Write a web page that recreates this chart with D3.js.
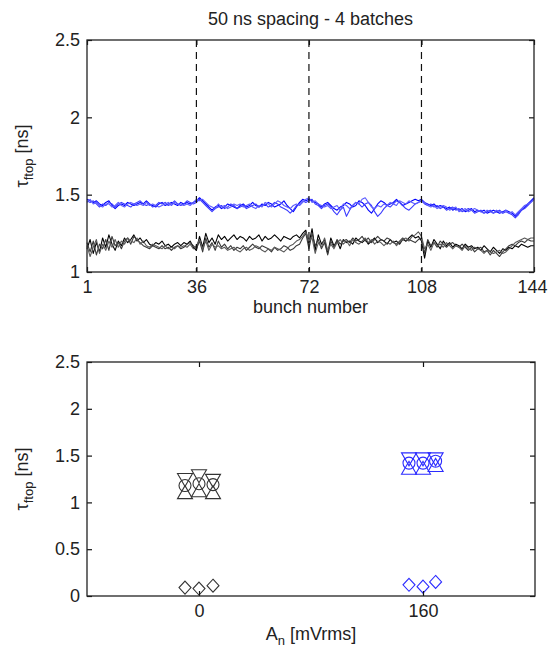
<!DOCTYPE html>
<html>
<head>
<meta charset="utf-8">
<script src="https://cdn.jsdelivr.net/npm/d3@7"></script>
<style>
  body { margin: 0; background: #fff; }
  text { font-family: "Liberation Sans", Arial, sans-serif; fill: #222; }
</style>
</head>
<body>
<script>
// ---- top panel: tau per bunch, 4 batches of 36 ----
const bunchTicks = [1, 36, 72, 108, 144];
const batchEdges = [36, 72, 108];
const topYTicks = [1, 1.5, 2, 2.5];

// blue traces (with noise), one line per batch
const blue1 = [
  1.47,1.46,1.45,1.46,1.44,1.43, 1.45,1.46,1.43,1.41,1.43,1.44, 1.43,1.45,1.44,1.43,1.44,1.45, 1.44,1.46,1.44,1.43,1.42,1.44, 1.45,1.43,1.44,1.45,1.44,1.43, 1.45,1.44,1.45,1.44,1.45,1.46,
  1.48,1.46,1.44,1.42,1.40,1.42, 1.43,1.41,1.42,1.44,1.43,1.42, 1.41,1.43,1.44,1.42,1.43,1.45, 1.43,1.42,1.44,1.43,1.45,1.44, 1.42,1.43,1.44,1.46,1.43,1.41, 1.39,1.42,1.45,1.47,1.46,1.47,
  1.46,1.45,1.44,1.42,1.44,1.45, 1.43,1.41,1.40,1.42,1.43,1.45, 1.44,1.42,1.43,1.46,1.45,1.43, 1.40,1.38,1.41,1.44,1.46,1.45, 1.43,1.44,1.45,1.47,1.45,1.43, 1.44,1.45,1.46,1.47,1.46,1.47,
  1.45,1.44,1.43,1.44,1.42,1.43, 1.42,1.41,1.42,1.40,1.41,1.40, 1.41,1.39,1.40,1.41,1.39,1.40, 1.39,1.40,1.38,1.39,1.40,1.39, 1.38,1.39,1.40,1.39,1.38,1.36, 1.38,1.40,1.42,1.44,1.46,1.48
];
const blue2 = [
  1.46,1.45,1.46,1.44,1.42,1.44, 1.43,1.45,1.44,1.42,1.44,1.45, 1.44,1.43,1.42,1.44,1.45,1.46, 1.44,1.43,1.44,1.42,1.43,1.45, 1.44,1.45,1.43,1.44,1.46,1.44, 1.43,1.44,1.46,1.45,1.44,1.45,
  1.47,1.45,1.43,1.41,1.39,1.41, 1.42,1.43,1.41,1.42,1.44,1.43, 1.41,1.42,1.43,1.41,1.42,1.43, 1.44,1.42,1.43,1.44,1.42,1.43, 1.45,1.44,1.42,1.41,1.40,1.38, 1.40,1.43,1.44,1.46,1.45,1.46,
  1.47,1.44,1.43,1.41,1.43,1.44, 1.42,1.39,1.37,1.40,1.42,1.36, 1.40,1.43,1.45,1.44,1.42,1.44, 1.45,1.43,1.39,1.36,1.38,1.41, 1.43,1.42,1.44,1.46,1.45,1.43, 1.41,1.40,1.42,1.44,1.45,1.46,
  1.44,1.43,1.44,1.42,1.43,1.41, 1.42,1.40,1.41,1.42,1.40,1.41, 1.39,1.40,1.41,1.40,1.38,1.39, 1.40,1.38,1.39,1.40,1.38,1.39, 1.40,1.38,1.39,1.38,1.37,1.35, 1.37,1.40,1.41,1.43,1.45,1.47
];
const blue3 = [
  1.45,1.47,1.44,1.45,1.43,1.42, 1.44,1.44,1.42,1.43,1.45,1.43, 1.42,1.44,1.45,1.44,1.43,1.44, 1.43,1.45,1.43,1.44,1.43,1.42, 1.43,1.44,1.45,1.43,1.45,1.44, 1.44,1.43,1.44,1.43,1.45,1.47,
  1.46,1.47,1.45,1.43,1.42,1.41, 1.44,1.42,1.43,1.41,1.42,1.44, 1.43,1.44,1.42,1.43,1.44,1.42, 1.41,1.43,1.42,1.45,1.44,1.42, 1.44,1.46,1.45,1.43,1.42,1.41, 1.43,1.44,1.43,1.45,1.47,1.48,
  1.45,1.46,1.44,1.43,1.42,1.43, 1.41,1.42,1.43,1.40,1.44,1.43, 1.41,1.43,1.45,1.44,1.47,1.48, 1.45,1.42,1.41,1.43,1.42,1.44, 1.43,1.45,1.44,1.43,1.46,1.45, 1.44,1.46,1.45,1.44,1.45,1.46,
  1.45,1.43,1.42,1.43,1.41,1.42, 1.43,1.42,1.40,1.41,1.42,1.39, 1.40,1.41,1.39,1.40,1.41,1.40, 1.39,1.38,1.40,1.39,1.38,1.40, 1.39,1.38,1.40,1.38,1.39,1.37, 1.39,1.41,1.43,1.44,1.45,1.47
];

// black traces (no noise)
const black1 = [
  1.15,1.21,1.12,1.19,1.13,1.22, 1.16,1.24,1.18,1.14,1.20,1.17, 1.22,1.19,1.21,1.24,1.20,1.22, 1.19,1.21,1.18,1.17,1.19,1.18, 1.20,1.17,1.18,1.16,1.18,1.19, 1.17,1.19,1.18,1.20,1.16,1.14,
  1.23,1.16,1.25,1.19,1.22,1.18, 1.24,1.21,1.23,1.20,1.22,1.24, 1.21,1.23,1.22,1.20,1.23,1.21, 1.22,1.24,1.20,1.23,1.21,1.22, 1.24,1.22,1.20,1.23,1.22,1.21, 1.23,1.24,1.22,1.25,1.27,1.18,
  1.28,1.14,1.24,1.18,1.21,1.12, 1.22,1.17,1.20,1.15,1.21,1.19, 1.20,1.18,1.22,1.20,1.19,1.21, 1.18,1.20,1.22,1.19,1.21,1.20, 1.18,1.21,1.19,1.20,1.18,1.21, 1.20,1.22,1.24,1.22,1.23,1.20,
  1.09,1.20,1.16,1.21,1.18,1.15, 1.20,1.17,1.19,1.16,1.18,1.17, 1.15,1.18,1.16,1.17,1.15,1.16, 1.14,1.17,1.15,1.13,1.16,1.14, 1.12,1.15,1.14,1.16,1.15,1.17, 1.16,1.18,1.17,1.16,1.17,1.17
];
const black2 = [
  1.19,1.13,1.20,1.11,1.18,1.15, 1.21,1.14,1.23,1.17,1.19,1.15, 1.20,1.22,1.18,1.23,1.21,1.19, 1.17,1.16,1.15,1.17,1.16,1.15, 1.17,1.15,1.16,1.14,1.16,1.17, 1.15,1.16,1.18,1.19,1.17,1.15,
  1.20,1.13,1.22,1.16,1.19,1.14, 1.20,1.16,1.18,1.15,1.17,1.14, 1.16,1.15,1.17,1.14,1.16,1.18, 1.16,1.15,1.17,1.16,1.15,1.13, 1.16,1.14,1.15,1.17,1.16,1.14, 1.15,1.17,1.18,1.22,1.25,1.15,
  1.25,1.17,1.21,1.15,1.19,1.11, 1.20,1.16,1.21,1.18,1.20,1.21, 1.19,1.22,1.20,1.21,1.23,1.20, 1.22,1.19,1.21,1.23,1.21,1.20, 1.22,1.21,1.19,1.18,1.20,1.22, 1.20,1.21,1.20,1.19,1.21,1.22,
  1.12,1.21,1.17,1.19,1.16,1.20, 1.18,1.16,1.18,1.19,1.17,1.16, 1.18,1.16,1.14,1.16,1.13,1.15, 1.16,1.13,1.14,1.11,1.14,1.12, 1.10,1.13,1.15,1.17,1.18,1.17, 1.19,1.20,1.19,1.21,1.20,1.20
];
const black3 = [
  1.17,1.10,1.16,1.21,1.12,1.18, 1.14,1.20,1.16,1.21,1.16,1.20, 1.18,1.22,1.20,1.19,1.22,1.18, 1.20,1.17,1.16,1.18,1.17,1.16, 1.15,1.17,1.15,1.16,1.15,1.17, 1.16,1.17,1.16,1.18,1.15,1.17,
  1.21,1.15,1.20,1.14,1.18,1.16, 1.17,1.15,1.16,1.14,1.15,1.16, 1.14,1.13,1.15,1.16,1.14,1.15, 1.17,1.16,1.14,1.13,1.15,1.14, 1.16,1.15,1.14,1.13,1.15,1.17, 1.18,1.20,1.21,1.23,1.26,1.20,
  1.22,1.12,1.19,1.16,1.22,1.14, 1.18,1.15,1.19,1.21,1.18,1.20, 1.17,1.21,1.19,1.18,1.20,1.22, 1.19,1.21,1.18,1.20,1.19,1.17, 1.19,1.18,1.20,1.17,1.19,1.21, 1.22,1.20,1.23,1.24,1.26,1.23,
  1.15,1.18,1.14,1.19,1.17,1.18, 1.16,1.19,1.17,1.15,1.17,1.16, 1.14,1.17,1.15,1.14,1.16,1.15, 1.14,1.12,1.14,1.13,1.12,1.13, 1.14,1.12,1.13,1.15,1.17,1.19, 1.20,1.21,1.22,1.21,1.22,1.22
];

// ---- bottom panel: tau vs noise amplitude ----
const anTicks = [0, 160];
const bottomYTicks = [0, 0.5, 1, 1.5, 2, 2.5];
const blackX = [-10, 0, 10];
const blueX = [150, 160, 169];
const blackTriDown = [1.24, 1.28, 1.23];
const blackCircle = [1.18, 1.20, 1.19];
const blackTriUp = [1.11, 1.13, 1.11];
const blackDiamond = [0.09, 0.08, 0.11];
const blueTriDown = [1.46, 1.46, 1.46];
const blueCircle = [1.42, 1.42, 1.44];
const blueTriUp = [1.37, 1.37, 1.40];
const blueDiamond = [0.12, 0.10, 0.15];

const W = 548, H = 648;
const topBox = { left: 87, right: 534, top: 40, bottom: 272 };
const botBox = { left: 87, right: 535, top: 362, bottom: 596 };
const tickLen = 5;
const fontSize = 18;
const subSize = 13;

const svg = d3.select("body").append("svg")
  .attr("width", W)
  .attr("height", H)
  .style("background", "#fff");

// draws box, inward ticks on all four sides, labels on left/bottom
function drawFrame(box, x, y, xTicks, yTicks) {
  const g = svg.append("g");

  const xAxis = g.append("g")
    .attr("transform", `translate(0,${box.bottom})`)
    .call(d3.axisBottom(x).tickValues(xTicks).tickSize(-tickLen).tickPadding(8).tickFormat(d3.format("d")));
  g.append("g")
    .attr("transform", `translate(0,${box.top})`)
    .call(d3.axisTop(x).tickValues(xTicks).tickSize(-tickLen).tickFormat(""));
  g.append("g")
    .attr("transform", `translate(${box.left},0)`)
    .call(d3.axisLeft(y).tickValues(yTicks).tickSize(-tickLen).tickPadding(7).tickFormat(d3.format("~g")));
  g.append("g")
    .attr("transform", `translate(${box.right},0)`)
    .call(d3.axisRight(y).tickValues(yTicks).tickSize(-tickLen).tickFormat(""));

  g.selectAll(".domain").remove();
  g.selectAll(".tick line").attr("stroke", "#111").attr("stroke-width", 1.2);
  g.selectAll(".tick text")
    .attr("font-size", fontSize)
    .attr("font-family", "Liberation Sans, Arial, sans-serif")
    .attr("fill", "#222");

  // keep a label that sits on the right border inside the page
  xAxis.selectAll(".tick text")
    .filter((d) => x(d) + 16 > W)
    .attr("dx", (d) => W - 1 - (x(d) + 15));

  g.append("rect")
    .attr("x", box.left)
    .attr("y", box.top)
    .attr("width", box.right - box.left)
    .attr("height", box.bottom - box.top)
    .attr("fill", "none")
    .attr("stroke", "#222")
    .attr("stroke-width", 1.3);
}

// y label with tau + subscript
function tauLabel(cx, cy) {
  const t = svg.append("text")
    .attr("transform", `translate(${cx},${cy}) rotate(-90)`)
    .attr("text-anchor", "middle")
    .attr("font-size", fontSize);
  t.append("tspan").text("\u03c4");
  t.append("tspan").attr("font-size", subSize).attr("dy", 5).text("ftop");
  t.append("tspan").attr("dy", -5).text(" [ns]");
}

// ---------------- top panel ----------------
const xTop = d3.scaleLinear().domain([1, 144]).range([topBox.left, topBox.right]);
const yTop = d3.scaleLinear().domain([1, 2.5]).range([topBox.bottom, topBox.top]);

const line = d3.line()
  .x((d, i) => xTop(i + 1))
  .y((d) => yTop(d));

const traces = [
  { values: black1, color: "#000000" },
  { values: black2, color: "#3a3a3a" },
  { values: black3, color: "#5a5a5a" },
  { values: blue1, color: "#0000ff" },
  { values: blue2, color: "#3b3bff" },
  { values: blue3, color: "#5c5cff" },
];

svg.append("g")
  .selectAll("path")
  .data(traces)
  .join("path")
  .attr("d", (d) => line(d.values))
  .attr("fill", "none")
  .attr("stroke", (d) => d.color)
  .attr("stroke-width", 1.1)
  .attr("stroke-linejoin", "round");

// batch separators
svg.append("g")
  .selectAll("line")
  .data(batchEdges)
  .join("line")
  .attr("x1", (d) => xTop(d))
  .attr("x2", (d) => xTop(d))
  .attr("y1", topBox.top)
  .attr("y2", topBox.bottom)
  .attr("stroke", "#111")
  .attr("stroke-width", 1.2)
  .attr("stroke-dasharray", "7,5");

drawFrame(topBox, xTop, yTop, bunchTicks, topYTicks);

svg.append("text")
  .attr("x", (topBox.left + topBox.right) / 2)
  .attr("y", 25)
  .attr("text-anchor", "middle")
  .attr("font-size", fontSize)
  .text("50 ns spacing - 4 batches");

svg.append("text")
  .attr("x", (topBox.left + topBox.right) / 2)
  .attr("y", 313)
  .attr("text-anchor", "middle")
  .attr("font-size", fontSize)
  .text("bunch number");

tauLabel(28, (topBox.top + topBox.bottom) / 2);

// ---------------- bottom panel ----------------
const xBot = d3.scaleLinear().domain([-80, 240]).range([botBox.left, botBox.right]);
const yBot = d3.scaleLinear().domain([0, 2.5]).range([botBox.bottom, botBox.top]);

// marker shapes, centred on the bounding box like matlab does
const triDown = (cx, cy) => `M${cx - 7.5},${cy - 6.5}L${cx + 7.5},${cy - 6.5}L${cx},${cy + 6.5}Z`;
const triUp = (cx, cy) => `M${cx - 7.5},${cy + 6.5}L${cx + 7.5},${cy + 6.5}L${cx},${cy - 6.5}Z`;
const diamond = (cx, cy) => `M${cx},${cy - 6.5}L${cx + 6},${cy}L${cx},${cy + 6.5}L${cx - 6},${cy}Z`;
const circle = (cx, cy) => `M${cx + 6},${cy}A6,6 0 1,1 ${cx - 6},${cy}A6,6 0 1,1 ${cx + 6},${cy}Z`;

const markerSets = [
  { xs: blackX, ys: blackTriDown, shape: triDown, color: "#333" },
  { xs: blackX, ys: blackTriUp, shape: triUp, color: "#333" },
  { xs: blackX, ys: blackCircle, shape: circle, color: "#333" },
  { xs: blackX, ys: blackDiamond, shape: diamond, color: "#333" },
  { xs: blueX, ys: blueTriDown, shape: triDown, color: "#2b2bff" },
  { xs: blueX, ys: blueTriUp, shape: triUp, color: "#2b2bff" },
  { xs: blueX, ys: blueCircle, shape: circle, color: "#2b2bff" },
  { xs: blueX, ys: blueDiamond, shape: diamond, color: "#2b2bff" },
];

const markerData = markerSets.flatMap((s) =>
  s.ys.map((v, i) => ({ x: s.xs[i], y: v, shape: s.shape, color: s.color }))
);

svg.append("g")
  .selectAll("path")
  .data(markerData)
  .join("path")
  .attr("d", (d) => d.shape(xBot(d.x), yBot(d.y)))
  .attr("fill", "none")
  .attr("stroke", (d) => d.color)
  .attr("stroke-width", 1.1);

drawFrame(botBox, xBot, yBot, anTicks, bottomYTicks);

tauLabel(28, (botBox.top + botBox.bottom) / 2);

const xl = svg.append("text")
  .attr("x", (botBox.left + botBox.right) / 2)
  .attr("y", 640)
  .attr("text-anchor", "middle")
  .attr("font-size", fontSize);
xl.append("tspan").text("A");
xl.append("tspan").attr("font-size", subSize).attr("dy", 5).text("n");
xl.append("tspan").attr("dy", -5).text(" [mVrms]");
</script>
</body>
</html>
